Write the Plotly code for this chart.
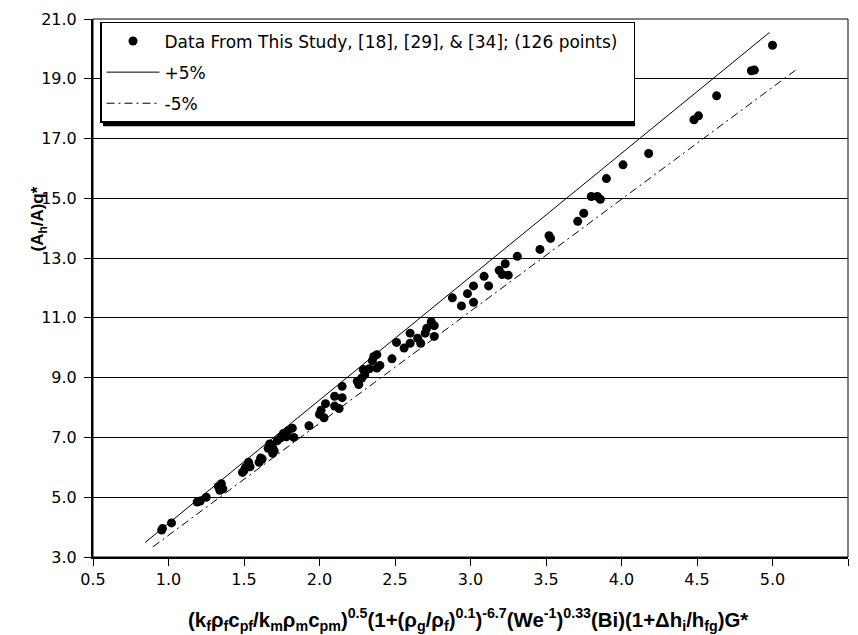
import plotly.graph_objects as go

# Data points
x_data = [5.00, 4.86, 4.88, 4.63, 4.51, 4.48, 4.18, 4.01, 3.90, 3.80, 3.84, 3.86, 3.75, 3.71,
          3.52, 3.53, 3.46, 3.31, 3.23, 3.19, 3.21, 3.25, 3.09, 3.02, 3.12, 2.98, 3.02, 2.94,
          2.88, 2.74, 2.71, 2.70, 2.76, 2.76, 2.65, 2.67, 2.60, 2.60, 2.56, 2.51, 2.48, 2.36,
          2.38, 2.35, 2.40, 2.38, 2.33, 2.29, 2.30, 2.25, 2.26, 2.28, 2.15, 2.10, 2.15, 2.04,
          2.10, 2.13, 2.00, 2.03, 2.01, 1.93, 1.82, 1.79, 1.76, 1.83, 1.78, 1.74, 1.72, 1.67,
          1.69, 1.66, 1.70, 1.69, 1.62, 1.61, 1.60, 1.53, 1.51, 1.49, 1.54, 1.50, 1.35, 1.36,
          1.34, 1.33, 1.25, 1.19, 1.21, 1.02, 0.96, 0.955]
y_data = [20.12, 19.27, 19.29, 18.43, 17.76, 17.63, 16.50, 16.12, 15.66, 15.06, 15.06, 14.97, 14.50, 14.23,
          13.75, 13.66, 13.29, 13.06, 12.81, 12.59, 12.45, 12.43, 12.39, 12.07, 12.07, 11.81, 11.52, 11.40,
          11.67, 10.87, 10.65, 10.49, 10.74, 10.38, 10.32, 10.15, 10.49, 10.15, 9.99, 10.18, 9.63, 9.71,
          9.77, 9.57, 9.41, 9.32, 9.30, 9.27, 9.10, 8.88, 8.77, 8.99, 8.71, 8.38, 8.33, 8.13,
          8.05, 7.97, 7.77, 7.66, 7.91, 7.39, 7.31, 7.22, 7.13, 7.00, 7.02, 6.98, 6.89, 6.78,
          6.66, 6.64, 6.55, 6.47, 6.28, 6.31, 6.17, 6.17, 6.00, 5.83, 6.02, 5.89, 5.45, 5.28,
          5.23, 5.36, 5.00, 4.84, 4.87, 4.14, 3.95, 3.90]

plus_x = [0.844, 4.98]
plus_y = [3.48, 20.55]
minus_x = [0.897, 5.156]
minus_y = [3.34, 19.30]

data_name = "Data From This Study, [18], [29], & [34]; (126 points)\u00a0\u00a0"
plus_name = "+5%"
minus_name = "-5%"

x_title = ("<b>(k<sub>f</sub>ρ<sub>f</sub>c<sub>pf</sub>/k<sub>m</sub>ρ<sub>m</sub>c<sub>pm</sub>)"
           "<sup>0.5</sup>(1+(ρ<sub>g</sub>/ρ<sub>f</sub>)<sup>0.1</sup>)<sup>-6.7</sup>"
           "(We<sup>-1</sup>)<sup>0.33</sup>(Bi)(1+Δh<sub>i</sub>/h<sub>fg</sub>)G*</b>")
y_title = "<b>(A<sub>h</sub>/A)q*</b>"

FONT = "DejaVu Sans, sans-serif"
TFONT = "Arial, Liberation Sans, sans-serif"

fig = go.Figure()
fig.add_trace(go.Scatter(x=x_data, y=y_data, mode="markers", name=data_name,
                         legendgroup="a",
                         marker=dict(color="black", size=9, line=dict(width=0))))
fig.add_trace(go.Scatter(x=plus_x, y=plus_y, mode="lines", name=plus_name,
                         legendgroup="b",
                         line=dict(color="black", width=1)))
fig.add_trace(go.Scatter(x=minus_x, y=minus_y, mode="lines", name=minus_name,
                         legendgroup="c",
                         line=dict(color="black", width=1, dash="8px,4px,2px,4px")))

W, H = 858, 635
ml, mr, mt, mb = 93, 10, 15, 78
pw = W - ml - mr
ph = H - mt - mb

def px2paper(px, py):
    return (px - ml) / pw, 1 - (py - mt) / ph

sx0, sy1 = px2paper(103, 24)
sx1, sy0 = px2paper(635, 123)

fig.update_layout(
    width=W, height=H,
    margin=dict(l=ml, r=mr, t=mt, b=mb),
    paper_bgcolor="white", plot_bgcolor="white",
    font=dict(family=FONT, size=16, color="black"),
    showlegend=True,
    legend=dict(x=(100 - ml) / pw, y=1 - (18 - mt) / ph, xanchor="left", yanchor="top",
                bgcolor="white", bordercolor="black", borderwidth=1.5,
                font=dict(size=17, family=FONT, color="black"),
                traceorder="grouped", tracegroupgap=6, itemwidth=53),
    xaxis=dict(range=[0.5, 5.5], tick0=0.5, dtick=0.5, tickformat=".1f",
               ticks="outside", ticklen=7, tickwidth=1, tickcolor="black",
               showline=True, linewidth=2, linecolor="black",
               showgrid=False, zeroline=False,
               tickfont=dict(size=16, family=FONT, color="black")),
    yaxis=dict(range=[3, 21], tick0=3, dtick=2, tickformat=".1f",
               ticks="outside", ticklen=7, tickwidth=1, tickcolor="black",
               showline=True, linewidth=2, linecolor="black",
               showgrid=True, gridcolor="black", gridwidth=1, zeroline=False,
               ticklabelstandoff=4,
               tickfont=dict(size=16, family=FONT, color="black")),
    shapes=[
        dict(type="rect", xref="paper", yref="paper", x0=0, x1=1, y0=0, y1=1,
             line=dict(color="black", width=1), layer="below"),
        dict(type="rect", xref="paper", yref="paper", x0=sx0, x1=sx1, y0=sy0, y1=sy1,
             line=dict(width=0), fillcolor="black", layer="above"),
    ],
    annotations=[
        dict(text=x_title, xref="paper", yref="paper", x=(468 - ml) / pw, y=1 - (620 - mt) / ph,
             xanchor="center", yanchor="middle", showarrow=False,
             font=dict(size=20.4, family=TFONT, color="black")),
        dict(text=y_title, xref="paper", yref="paper", x=(39 - ml) / pw, y=1 - (217 - mt) / ph,
             xanchor="center", yanchor="middle", showarrow=False, textangle=-90,
             font=dict(size=17, family=TFONT, color="black")),
    ],
)

fig.write_html("out.html")
